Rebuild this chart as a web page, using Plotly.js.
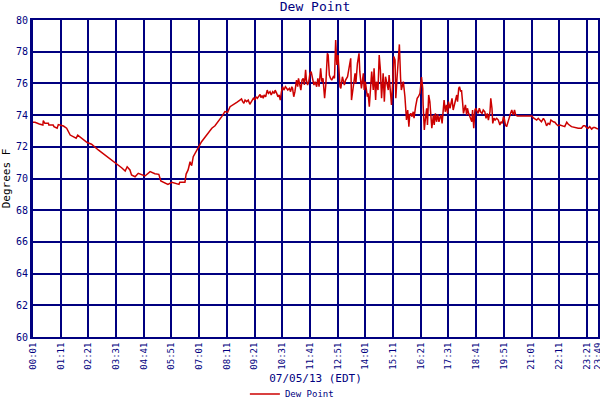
<!DOCTYPE html>
<html>
<head>
<meta charset="utf-8">
<script src="https://cdn.plot.ly/plotly-3.0.1.min.js"></script>
<style>html,body{margin:0;padding:0;background:#fff;}#chart{width:600px;height:400px;}</style>
</head>
<body>
<div id="chart"></div>
<script>
// minutes since midnight (07/05/13, EDT)
var minutes = [1,6,17,26,27,31,40,41,52,54,62,65,78,86,95,103,110,114,124,138,149,158,166,175,183,191,200,208,217,225,234,239,246,250,259,267,284,297,309,319,324,342,352,370,372,385,388,393,398,402,406,410,419,427,436,444,453,461,469,478,486,493,499,507,516,524,528,531,534,537,541,545,549,553,558,562,564,568,570,575,577,580,583,585,589,593,596,600,603,607,611,613,617,620,623,626,629,632,635,639,642,645,649,652,655,657,660,663,667,670,672,676,678,681,684,687,690,692,695,698,701,704,708,711,714,718,721,724,728,731,734,738,741,745,747,750,753,756,760,763,766,769,772,774,777,779,783,788,791,796,799,804,806,810,815,817,821,825,827,831,836,838,841,846,848,851,854,857,861,863,867,869,873,876,879,882,886,889,892,895,899,901,904,907,910,913,916,918,921,927,930,932,937,941,945,948,951,953,956,959,962,964,968,972,975,979,983,986,987,990,992,996,998,1001,1004,1007,1009,1013,1015,1018,1021,1024,1027,1030,1032,1035,1038,1040,1043,1046,1049,1051,1055,1057,1060,1063,1066,1069,1072,1074,1077,1079,1082,1084,1087,1089,1092,1094,1097,1099,1102,1105,1110,1112,1115,1118,1120,1124,1126,1129,1132,1136,1139,1143,1146,1149,1152,1156,1158,1161,1163,1166,1169,1173,1177,1181,1184,1187,1190,1192,1195,1198,1201,1205,1208,1211,1215,1218,1221,1225,1262,1265,1270,1274,1278,1282,1286,1291,1295,1299,1303,1307,1310,1316,1320,1324,1328,1333,1341,1345,1350,1354,1362,1371,1379,1387,1392,1396,1400,1404,1408,1413,1417,1421,1425,1429];
var dewPoint = [73.55,73.55,73.44,73.37,73.65,73.48,73.48,73.37,73.37,73.27,73.17,73.40,73.31,73.17,72.74,72.64,72.54,72.74,72.54,72.27,72.16,72.00,71.80,71.63,71.48,71.34,71.17,71.00,70.85,70.68,70.47,70.74,70.54,70.22,70.11,70.33,70.16,70.43,70.30,70.26,69.84,69.63,69.76,69.63,69.76,69.76,70.28,70.54,71.06,70.81,71.38,71.59,71.97,72.32,72.64,72.91,73.17,73.33,73.58,73.90,74.22,74.18,74.53,74.64,74.81,74.95,75.02,74.85,74.74,74.95,74.85,74.95,74.68,74.85,75.06,74.95,75.16,75.06,75.16,75.31,75.10,75.23,75.06,75.27,75.16,75.58,75.37,75.48,75.27,75.48,75.37,75.58,75.37,75.16,75.27,74.95,75.48,75.79,75.58,75.79,75.69,75.58,75.69,75.48,75.79,75.69,75.16,75.48,76.21,75.79,76.32,75.90,75.58,76.21,76.32,75.90,76.85,76.21,75.90,76.11,76.64,76.74,76.32,75.90,76.11,75.79,76.32,75.79,76.95,76.11,76.32,75.06,75.90,77.90,77.79,76.53,76.32,76.21,76.42,76.32,78.74,77.16,77.79,76.53,75.79,75.69,76.42,75.90,76.21,76.42,76.95,77.58,74.95,75.58,76.64,76.00,77.27,77.90,76.74,75.69,76.64,75.58,76.11,75.16,75.37,74.53,76.00,76.74,75.58,76.95,74.95,76.11,75.58,77.79,76.85,75.06,76.64,74.85,76.42,76.00,75.58,76.53,75.69,74.64,76.00,77.69,77.48,75.06,76.32,78.46,76.32,75.58,76.11,75.16,73.69,74.32,73.27,74.00,74.11,73.90,74.21,73.80,74.53,75.06,75.16,75.37,76.40,75.69,74.64,73.06,73.58,74.43,73.38,75.27,74.85,73.38,73.17,74.00,73.38,74.11,73.58,74.05,73.58,73.90,74.00,73.48,74.64,74.95,74.21,74.64,74.11,74.85,74.43,74.64,75.06,74.32,74.74,74.95,75.27,74.85,75.69,75.79,75.48,75.58,74.74,74.11,74.43,74.64,74.00,74.43,74.11,73.90,73.58,74.32,73.17,74.32,74.43,74.21,74.11,74.43,74.21,74.11,74.32,74.21,73.80,74.11,73.69,74.21,75.06,74.43,73.48,73.80,73.69,73.80,73.69,73.38,73.58,73.48,73.90,73.80,73.38,73.27,73.58,73.80,74.11,74.32,74.00,74.32,74.00,73.95,73.95,73.84,73.75,73.69,73.80,73.69,73.58,73.80,73.63,73.33,73.48,73.42,73.69,73.58,73.55,73.42,73.33,73.38,73.33,73.27,73.55,73.42,73.27,73.21,73.17,73.17,73.33,73.33,73.21,73.17,73.27,73.12,73.21,73.21,73.17,73.12];
var tickMinutes = [1,71,141,211,281,351,421,491,561,631,701,771,841,911,981,1051,1121,1191,1261,1331,1401,1429];
var tickLabels = ["00:01","01:11","02:21","03:31","04:41","05:51","07:01","08:11","09:21","10:31","11:41","12:51","14:01","15:11","16:21","17:31","18:41","19:51","21:01","22:11","23:21","23:49"];
var yTicks = [60,62,64,66,68,70,72,74,76,78,80];

var navy = '#000080';
var mono = 'DejaVu Sans Mono, monospace';

var trace = {
  x: minutes, y: dewPoint, type: 'scatter', mode: 'lines', name: 'Dew Point',
  line: {color: '#cc0000', width: 1.5}
};

var layout = {
  width: 600, height: 400,
  margin: {l: 33, r: 2, t: 20, b: 63, autoexpand: false},
  paper_bgcolor: '#ffffff', plot_bgcolor: '#ffffff',
  title: {text: 'Dew Point', font: {family: mono, size: 13, color: navy}, x: 0.525, xanchor: 'center', y: 0.995, yanchor: 'top'},
  showlegend: true,
  legend: {orientation: 'h', x: 0.375, xanchor: 'left', y: -0.134, yanchor: 'top', font: {family: mono, size: 9, color: navy}, bgcolor: 'rgba(0,0,0,0)'},
  xaxis: {
    range: [1, 1429], tickmode: 'array', tickvals: tickMinutes, ticktext: tickLabels,
    tickangle: -90, tickfont: {family: mono, size: 9, color: navy},
    ticklabeloverflow: 'allow', automargin: false,
    showgrid: true, gridcolor: navy, gridwidth: 2,
    showline: true, linecolor: navy, linewidth: 2, mirror: true,
    zeroline: false, ticks: '',
    title: {text: '07/05/13 (EDT)', font: {family: mono, size: 11, color: navy}, standoff: 6}
  },
  yaxis: {
    range: [60, 80], tickmode: 'array', tickvals: yTicks,
    tickfont: {family: mono, size: 10, color: navy}, automargin: false,
    showgrid: true, gridcolor: navy, gridwidth: 2,
    showline: true, linecolor: navy, linewidth: 3, mirror: true,
    zeroline: false, ticks: '',
    title: {text: 'Degrees F', font: {family: mono, size: 11, color: '#000000'}, standoff: 6}
  }
};

Plotly.newPlot('chart', [trace], layout, {displayModeBar: false, staticPlot: true});
</script>
</body>
</html>
